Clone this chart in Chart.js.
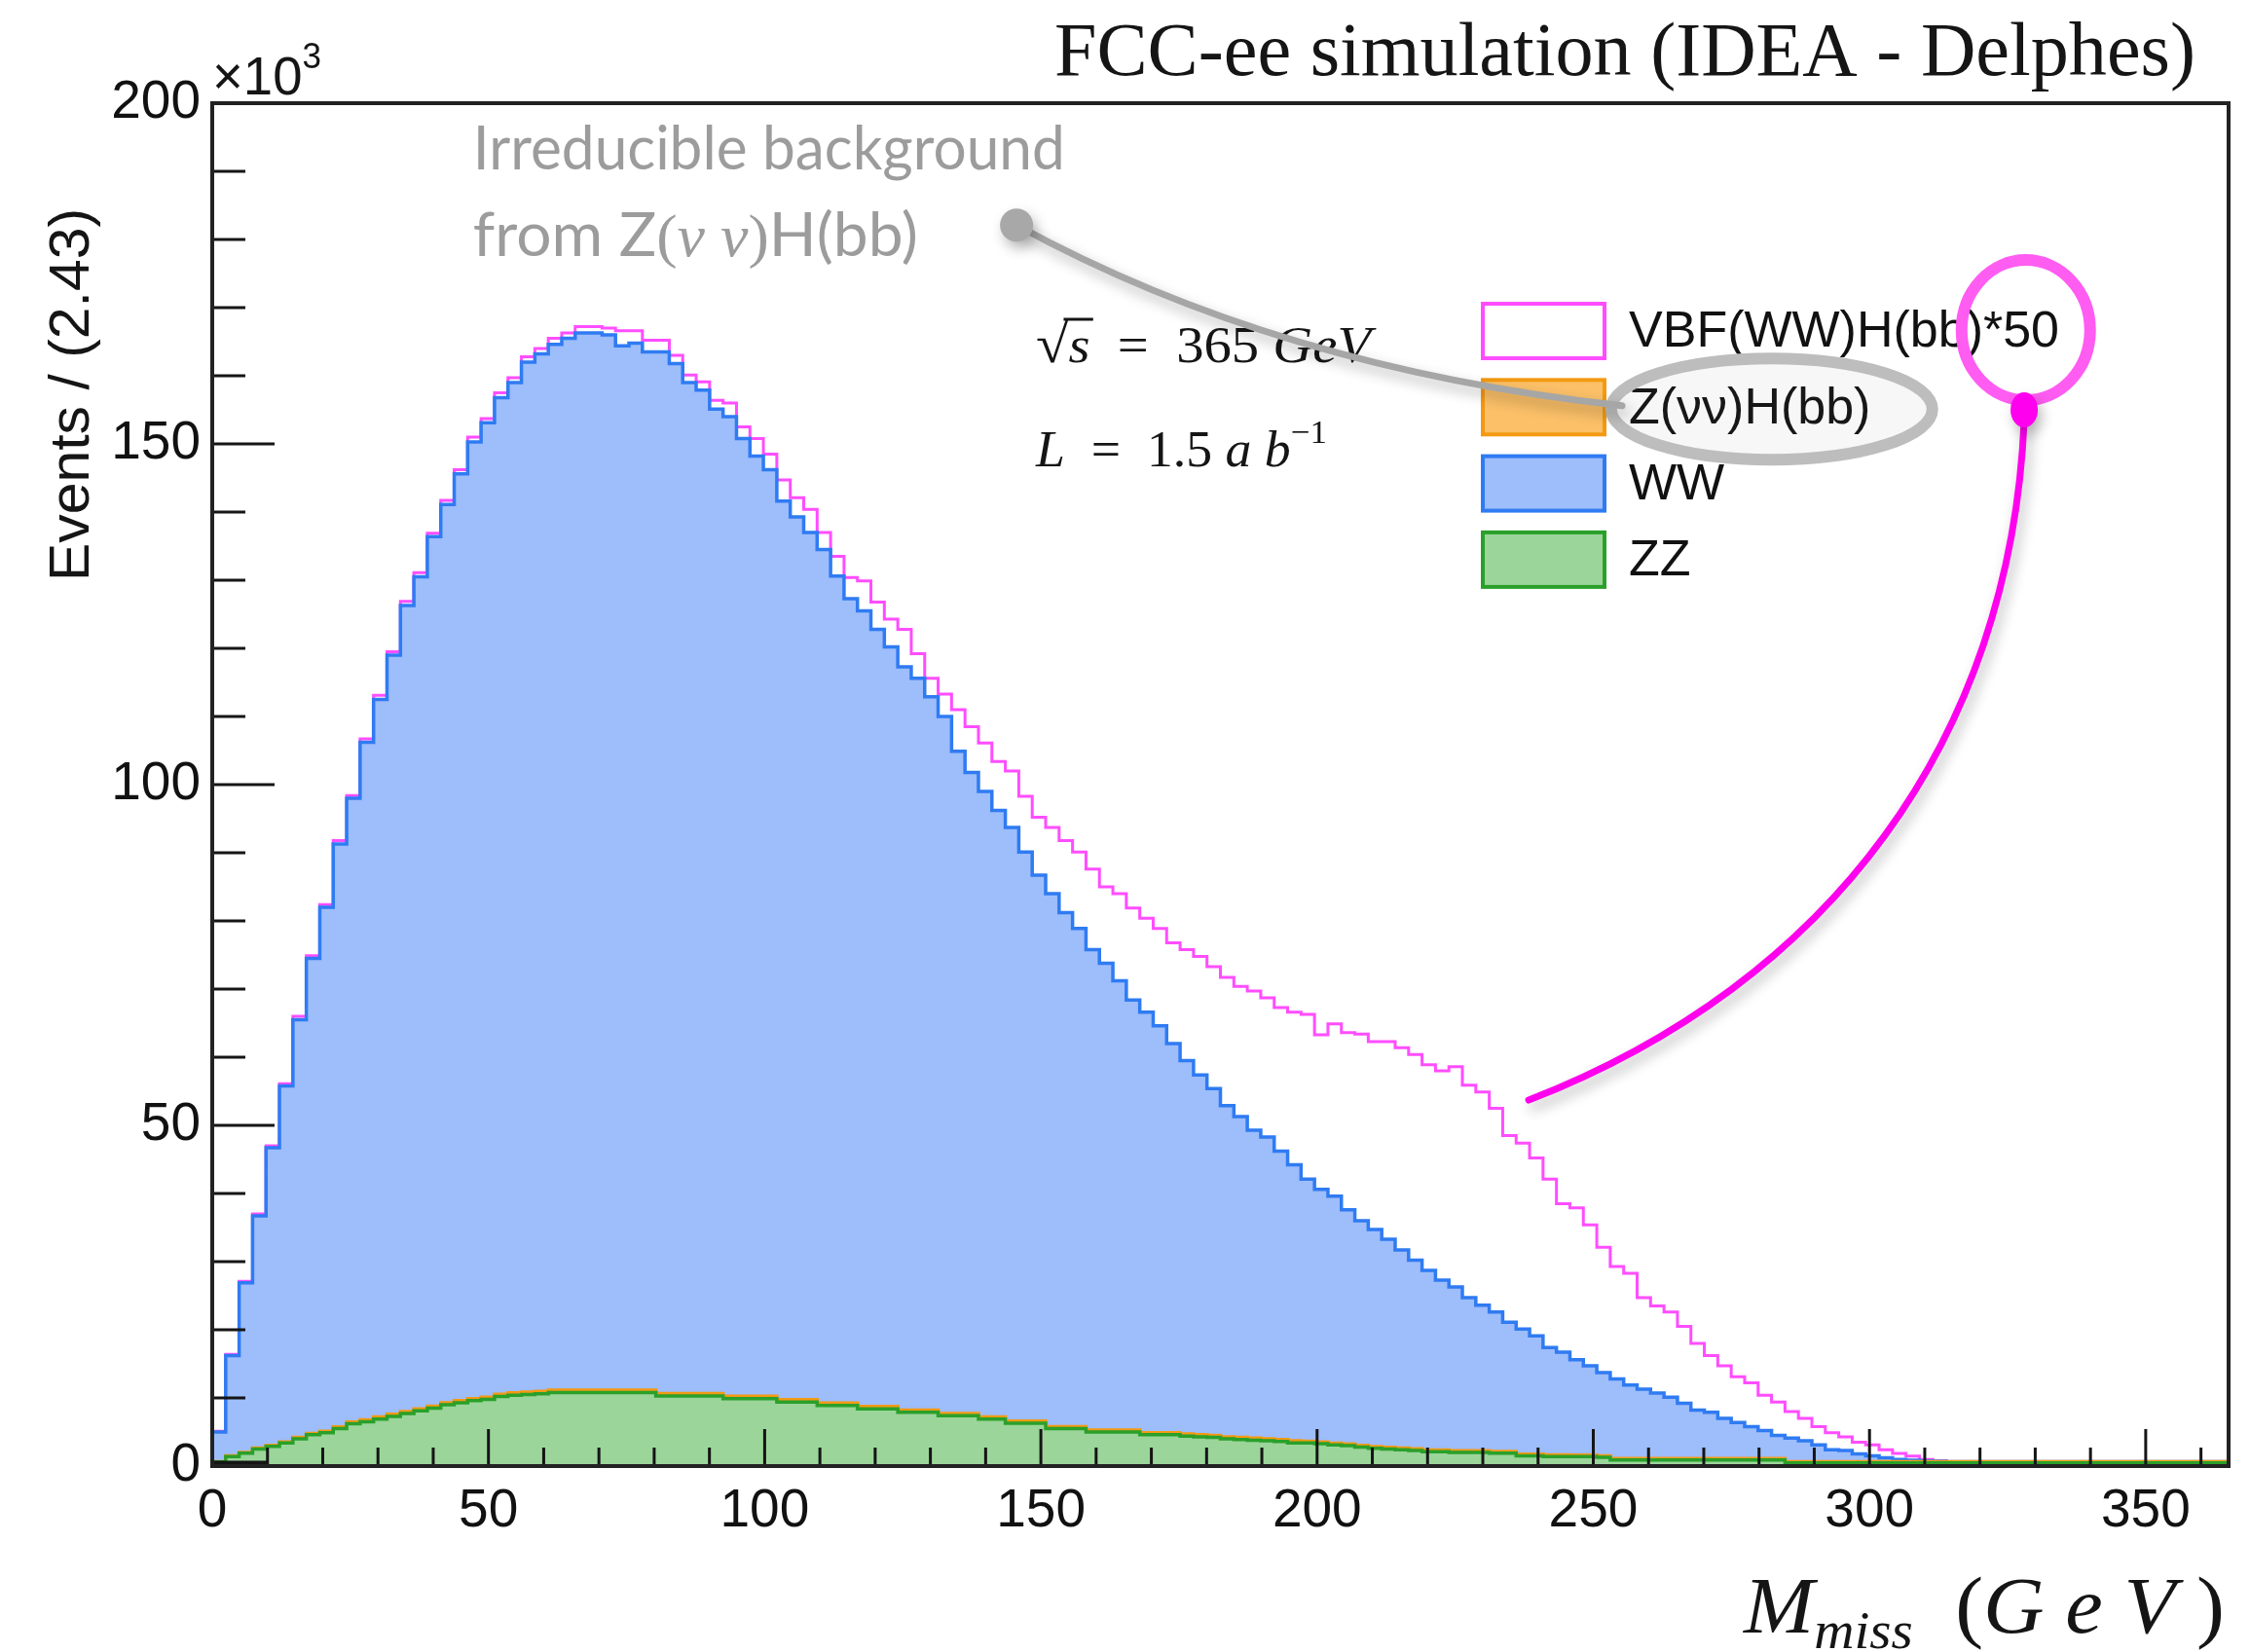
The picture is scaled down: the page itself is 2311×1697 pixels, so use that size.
<!DOCTYPE html>
<html lang="en">
<head>
<meta charset="UTF-8">
<title>M_miss - FCC-ee simulation (IDEA - Delphes)</title>
<script src="https://cdn.jsdelivr.net/npm/chart.js@4.4.1/dist/chart.umd.min.js"></script>
<style>
  html, body { margin: 0; padding: 0; background: #fff; }
  #wrap { position: relative; width: 2311px; height: 1697px; }
  canvas { display: block; }
</style>
</head>
<body>
<div id="wrap"><canvas id="mmiss" width="2311" height="1697"></canvas></div>
<script>
// histogram binning: 150 bins of 2.43 GeV between 0 and 365 GeV
const X_MIN = 0, X_MAX = 365, N_BINS = 150;
const xTickLabels = ['0', '50', '100', '150', '200', '250', '300', '350'];
const yTickLabels = ['0', '50', '100', '150', '200'];   // events, x10^3

// stacked components, events per bin in units of 10^3
const zz = [
  0.6, 1.4, 1.9, 2.5, 2.9, 3.4, 4.0, 4.6, 4.9, 5.5,
  6.2, 6.5, 6.9, 7.3, 7.7, 8.1, 8.5, 9.0, 9.3, 9.6,
  9.8, 10.2, 10.4, 10.5, 10.6, 10.8, 10.8, 10.8, 10.8, 10.8,
  10.8, 10.8, 10.8, 10.3, 10.3, 10.3, 10.3, 10.3, 9.9, 9.9,
  9.9, 9.9, 9.4, 9.4, 9.4, 8.9, 8.9, 8.9, 8.4, 8.4,
  8.4, 7.9, 7.9, 7.9, 7.4, 7.4, 7.4, 6.9, 6.9, 6.3,
  6.3, 6.3, 5.5, 5.5, 5.5, 5.0, 5.0, 5.0, 5.0, 4.6,
  4.6, 4.6, 4.4, 4.3, 4.2, 4.0, 3.9, 3.8, 3.7, 3.6,
  3.4, 3.4, 3.3, 3.1, 3.0, 2.8, 2.6, 2.5, 2.4, 2.3,
  2.1, 2.1, 2.0, 2.0, 2.0, 1.9, 1.9, 1.5, 1.5, 1.4,
  1.4, 1.4, 1.4, 1.3, 0.9, 0.9, 0.9, 0.9, 0.9, 0.9,
  0.9, 0.9, 0.9, 0.9, 0.9, 0.9, 0.9, 0.45, 0.45, 0.45,
  0.45, 0.45, 0.45, 0.45, 0.45, 0.45, 0.45, 0.45, 0.45, 0.45,
  0.45, 0.45, 0.45, 0.45, 0.45, 0.45, 0.45, 0.45, 0.45, 0.45,
  0.45, 0.45, 0.45, 0.45, 0.45, 0.45, 0.45, 0.45, 0.45, 0.45
];
const zvvHbb = [
  0.05, 0.1, 0.1, 0.15, 0.15, 0.15, 0.2, 0.2, 0.2, 0.25,
  0.25, 0.3, 0.3, 0.3, 0.3, 0.3, 0.3, 0.3, 0.3, 0.3,
  0.3, 0.35, 0.35, 0.35, 0.35, 0.35, 0.35, 0.35, 0.35, 0.35,
  0.35, 0.35, 0.35, 0.35, 0.35, 0.35, 0.35, 0.35, 0.35, 0.35,
  0.35, 0.35, 0.35, 0.35, 0.35, 0.35, 0.35, 0.35, 0.35, 0.35,
  0.35, 0.3, 0.3, 0.3, 0.3, 0.3, 0.3, 0.3, 0.3, 0.3,
  0.3, 0.3, 0.3, 0.3, 0.3, 0.3, 0.3, 0.3, 0.3, 0.3,
  0.3, 0.3, 0.3, 0.3, 0.3, 0.3, 0.3, 0.3, 0.3, 0.3,
  0.3, 0.25, 0.25, 0.25, 0.25, 0.25, 0.25, 0.25, 0.25, 0.25,
  0.25, 0.25, 0.25, 0.25, 0.25, 0.25, 0.25, 0.25, 0.25, 0.25,
  0.25, 0.2, 0.2, 0.2, 0.2, 0.2, 0.2, 0.2, 0.2, 0.2,
  0.2, 0.2, 0.2, 0.2, 0.2, 0.2, 0.2, 0.2, 0.2, 0.2,
  0.2, 0.2, 0.2, 0.2, 0.2, 0.2, 0.2, 0.2, 0.2, 0.2,
  0.2, 0.2, 0.2, 0.2, 0.2, 0.2, 0.2, 0.2, 0.2, 0.2,
  0.2, 0.2, 0.2, 0.2, 0.2, 0.2, 0.2, 0.2, 0.2, 0.2
];
const ww = [
  4.35, 14.7, 24.9, 34.05, 43.65, 52.25, 61.3, 69.7, 76.9, 85.55,
  91.55, 99.4, 105.3, 111.4, 118.3, 122.1, 127.6, 131.8, 136.0, 140.4,
  143.0, 146.25, 148.25, 151.15, 152.25, 153.45, 154.35, 155.15, 155.15, 154.85,
  153.25, 153.65, 152.35, 152.85, 151.15, 148.35, 147.25, 144.45, 143.75, 140.55,
  137.95, 135.95, 131.85, 129.55, 127.25, 125.25, 121.35, 118.05, 116.75, 114.05,
  111.45, 109.1, 107.4, 104.7, 102.3, 97.2, 94.1, 91.8, 89.0, 87.1,
  83.5, 80.1, 78.2, 75.4, 73.1, 70.5, 68.5, 65.9, 63.1, 61.7,
  59.7, 57.1, 54.8, 52.8, 50.9, 48.6, 47.1, 45.2, 44.3, 42.3,
  40.5, 38.45, 37.05, 36.25, 34.35, 32.95, 31.85, 30.55, 29.05, 27.65,
  26.35, 24.95, 24.05, 22.45, 21.35, 20.45, 18.95, 18.35, 17.35, 15.75,
  15.05, 14.0, 13.1, 12.2, 11.7, 10.8, 10.2, 9.6, 9.0, 8.1,
  7.1, 6.8, 5.9, 5.3, 4.7, 4.1, 3.4, 3.45, 3.05, 2.45,
  1.75, 1.65, 1.15, 0.85, 0.55, 0.3, 0.2, 0.1, 0.05, 0,
  0, 0, 0, 0, 0, 0, 0, 0, 0, 0,
  0, 0, 0, 0, 0, 0, 0, 0, 0, 0
];
const vbfHbbX50 = [
  0.1, 0.2, 0.2, 0.3, 0.3, 0.3, 0.5, 0.4, 0.4, 0.5,
  0.4, 0.5, 0.6, 0.5, 0.6, 0.6, 0.5, 0.6, 0.6, 0.7,
  0.6, 0.7, 0.7, 0.8, 0.8, 0.9, 0.8, 0.9, 0.9, 1.0,
  2.2, 1.8, 1.7, 1.7, 1.2, 1.1, 1.2, 1.3, 2.0, 1.7,
  2.6, 2.3, 3.1, 2.8, 3.4, 2.5, 2.9, 3.1, 4.4, 4.0,
  4.1, 5.5, 3.6, 2.7, 3.3, 6.1, 6.7, 7.1, 7.2, 8.3,
  8.2, 8.5, 9.7, 10.6, 11.2, 11.8, 11.2, 12.8, 13.5, 13.8,
  14.3, 14.8, 16.3, 17.4, 17.9, 18.8, 19.1, 20.4, 20.4, 21.1,
  22.4, 24.2, 22.7, 25.3, 26.0, 27.4, 27.6, 29.0, 29.7, 30.2,
  30.2, 30.7, 32.3, 31.2, 31.3, 29.9, 27.4, 27.3, 26.1, 24.7,
  21.8, 22.3, 20.7, 18.4, 16.5, 16.4, 13.4, 12.8, 12.5, 11.3,
  9.8, 8.3, 7.7, 6.7, 6.4, 5.2, 4.9, 3.9, 3.3, 2.7,
  2.5, 2.0, 1.7, 1.6, 1.2, 0.9, 0.6, 0.2, 0.1, 0,
  0, 0, 0, 0, 0, 0, 0, 0, 0, 0,
  0, 0, 0, 0, 0, 0, 0, 0, 0, 0
];

const SERIF = '"Liberation Serif", "DejaVu Serif", serif';
const SANS = '"Liberation Sans", Arial, sans-serif';
const HAND = 'Lato, "Open Sans", sans-serif';

// bin low edges + final upper edge, so a stepped line draws each bin as a flat step
const binEdges = Array.from({ length: N_BINS + 1 }, (_, i) => X_MIN + i * (X_MAX - X_MIN) / N_BINS);
function histPoints(values) {
  const pts = values.map((v, i) => ({ x: binEdges[i], y: v }));
  pts.push({ x: binEdges[N_BINS], y: values[N_BINS - 1] });
  return pts;
}

// draw a run of differently styled text pieces, squeezed to a target width
function drawRun(ctx, parts, x, y, targetWidth) {
  let w = 0;
  parts.forEach(p => { ctx.font = p.font; p.w = ctx.measureText(p.text).width; p.x = w; w += p.w; });
  const sx = targetWidth ? targetWidth / w : 1;
  ctx.save();
  ctx.translate(x, y);
  ctx.scale(sx, 1);
  ctx.textAlign = 'left';
  ctx.textBaseline = 'alphabetic';
  parts.forEach(p => { ctx.font = p.font; ctx.fillText(p.text, p.x, p.dy || 0); });
  ctx.restore();
  return sx;
}

function shadowOn(ctx) {
  ctx.shadowColor = 'rgba(0,0,0,0.28)';
  ctx.shadowBlur = 14;
  ctx.shadowOffsetX = 4;
  ctx.shadowOffsetY = 7;
}

const rootStyle = {
  id: 'rootStyle',
  beforeDraw(chart) {
    const { ctx, width, height } = chart;
    ctx.save();
    ctx.fillStyle = '#fff';
    ctx.fillRect(0, 0, width, height);
    ctx.restore();
  },
  afterDatasetsDraw(chart) {
    const { ctx, chartArea: a, scales: { x, y } } = chart;
    ctx.save();
    ctx.strokeStyle = '#151515';
    ctx.lineWidth = 3;
    ctx.beginPath();
    for (let v = 0; v <= 200; v += 10) {
      const py = y.getPixelForValue(v);
      ctx.moveTo(a.left, py);
      ctx.lineTo(a.left + (v % 50 === 0 ? 64 : 34), py);
    }
    for (let v = 0; v <= 360; v += 10) {
      const px = x.getPixelForValue(v);
      ctx.moveTo(px, a.bottom);
      ctx.lineTo(px, a.bottom - (v % 50 === 0 ? 38 : 19));
    }
    ctx.stroke();
    // heavy stub on the first 10 GeV of the baseline, as in the ROOT output
    ctx.lineWidth = 7;
    ctx.beginPath();
    ctx.moveTo(a.left, a.bottom - 2);
    ctx.lineTo(x.getPixelForValue(10), a.bottom - 2);
    ctx.stroke();
    ctx.lineWidth = 4;
    ctx.strokeStyle = '#222';
    ctx.strokeRect(a.left, a.top, a.right - a.left, a.bottom - a.top);
    ctx.restore();
  },
  afterDraw(chart) {
    const { ctx, chartArea: a, scales: { x, y } } = chart;
    const X = v => x.getPixelForValue(v), Y = v => y.getPixelForValue(v);
    ctx.save();

    // header and axis titles
    ctx.fillStyle = '#151515';
    drawRun(ctx, [{ text: 'FCC-ee simulation (IDEA - Delphes)', font: `78px ${SERIF}` }], 1083, 77, 1172);
    drawRun(ctx, [{ text: '\u00d710', font: `56px ${SANS}` }, { text: '3', font: `36px ${SANS}`, dy: -27 }], a.left, 97, 112);
    ctx.save();
    ctx.translate(91, 597);
    ctx.rotate(-Math.PI / 2);
    drawRun(ctx, [{ text: 'Events / (2.43)', font: `57px ${SANS}` }], 0, 0, 383);
    ctx.restore();
    drawRun(ctx, [
      { text: 'M', font: `italic 82px ${SERIF}` },
      { text: 'miss', font: `italic 54px ${SERIF}`, dy: 16 },
      { text: '  (', font: `82px ${SERIF}` },
      { text: 'G', font: `italic 82px ${SERIF}` },
      { text: ' e', font: `italic 82px ${SERIF}` },
      { text: ' V', font: `italic 82px ${SERIF}` },
      { text: ' )', font: `82px ${SERIF}` }
    ], 1791, 1677, 494);

    // energy / luminosity labels
    const sqrtParts = [
      { text: '\u221a', font: `56px ${SERIF}` },
      { text: 's', font: `italic 52px ${SERIF}` },
      { text: '  =  365 ', font: `52px ${SERIF}` },
      { text: 'GeV', font: `italic 52px ${SERIF}` }
    ];
    const sx0 = X(149.1), by0 = Y(162);
    const ssx = drawRun(ctx, sqrtParts, sx0, by0, 344);
    ctx.strokeStyle = '#151515';
    ctx.lineWidth = 3;
    ctx.beginPath();
    ctx.moveTo(sx0 + (sqrtParts[0].x + sqrtParts[0].w * 0.85) * ssx, by0 - 44);
    ctx.lineTo(sx0 + (sqrtParts[1].x + sqrtParts[1].w + 3) * ssx, by0 - 44);
    ctx.stroke();
    drawRun(ctx, [
      { text: 'L', font: `italic 52px ${SERIF}` },
      { text: '  =  1.5 ', font: `52px ${SERIF}` },
      { text: 'a b', font: `italic 52px ${SERIF}` },
      { text: '\u22121', font: `34px ${SERIF}`, dy: -24 }
    ], X(149.1), Y(146.7), 299);

    // legend
    const legend = [
      { label: 'VBF(WW)H(bb)*50', fill: '#ffffff', line: '#ff4dff' },
      { label: 'Z(\u03bd\u03bd)H(bb)', fill: '#fbc068', line: '#f39a12' },
      { label: 'WW', fill: '#9dbdfb', line: '#2f7bf2' },
      { label: 'ZZ', fill: '#9bd59a', line: '#2aa02a' }
    ];
    const lx = X(230), ly0 = a.top + 234, pitch = 78.3;
    legend.forEach((e, i) => {
      const cy = ly0 + i * pitch;
      ctx.fillStyle = e.fill;
      ctx.strokeStyle = e.line;
      ctx.lineWidth = 4;
      ctx.fillRect(lx, cy - 28, 125, 56);
      ctx.strokeRect(lx, cy - 28, 125, 56);
      ctx.fillStyle = '#111';
      ctx.font = `52px ${SANS}`;
      ctx.textBaseline = 'middle';
      ctx.fillText(e.label, lx + 150, cy + 2);
    });

    // gray annotation: irreducible background
    ctx.fillStyle = '#9c9c9c';
    drawRun(ctx, [{ text: 'Irreducible background', font: `62px ${HAND}` }], X(47.2), Y(190.3), 608);
    drawRun(ctx, [
      { text: 'from Z', font: `62px ${HAND}` },
      { text: '(', font: `62px ${SERIF}` },
      { text: '\u03bd \u03bd', font: `italic 62px ${SERIF}` },
      { text: ')', font: `62px ${SERIF}` },
      { text: 'H(bb)', font: `62px ${HAND}` }
    ], X(47.2), Y(177.6), 457);

    ctx.save();
    ctx.fillStyle = 'rgba(120,120,120,0.06)';
    ctx.strokeStyle = '#bdbdbd';
    ctx.lineWidth = 12;
    ctx.beginPath();
    ctx.ellipse(X(282.3), Y(155.1), 165, 52, 0, 0, Math.PI * 2);
    ctx.fill();
    ctx.stroke();
    ctx.restore();

    ctx.save();
    shadowOn(ctx);
    ctx.strokeStyle = '#a6a6a6';
    ctx.lineWidth = 7;
    ctx.lineCap = 'round';
    ctx.beginPath();
    ctx.moveTo(X(145.6), Y(182.1));
    ctx.quadraticCurveTo(X(193), Y(161.1), X(255.2), Y(155.6));
    ctx.stroke();
    ctx.fillStyle = '#a8a8a8';
    ctx.beginPath();
    ctx.arc(X(145.6), Y(182.1), 17, 0, Math.PI * 2);
    ctx.fill();
    ctx.restore();

    // pink annotation: signal scale factor
    ctx.save();
    ctx.strokeStyle = '#ff5cf2';
    ctx.lineWidth = 12;
    ctx.beginPath();
    ctx.ellipse(X(328.3), Y(166.7), 66, 72, 0, 0, Math.PI * 2);
    ctx.stroke();
    shadowOn(ctx);
    ctx.strokeStyle = '#ff00ee';
    ctx.lineWidth = 7;
    ctx.lineCap = 'round';
    ctx.beginPath();
    ctx.moveTo(X(328), Y(153.4));
    ctx.bezierCurveTo(X(325.5), Y(106.6), X(292.9), Y(70.9), X(238.3), Y(53.7));
    ctx.stroke();
    ctx.fillStyle = '#ff00ee';
    ctx.beginPath();
    ctx.ellipse(X(328), Y(155), 14, 18, 0, 0, Math.PI * 2);
    ctx.fill();
    ctx.restore();

    ctx.restore();
  }
};

const stepLine = { stepped: 'before', pointRadius: 0, borderWidth: 3.5, tension: 0 };

new Chart(document.getElementById('mmiss'), {
  type: 'line',
  data: {
    datasets: [
      { ...stepLine, label: 'ZZ', data: histPoints(zz), borderColor: '#2aa02a', backgroundColor: '#9bd59a', fill: 'origin' },
      { ...stepLine, label: 'Z(\u03bd\u03bd)H(bb)', data: histPoints(zvvHbb), borderColor: '#f39a12', backgroundColor: '#fbc068', fill: '-1' },
      { ...stepLine, label: 'WW', data: histPoints(ww), borderColor: '#2f7bf2', backgroundColor: '#9dbdfb', fill: '-1' },
      { ...stepLine, label: 'VBF(WW)H(bb)*50', data: histPoints(vbfHbbX50), borderColor: '#ff4dff', backgroundColor: 'transparent', fill: false, borderWidth: 3 }
    ]
  },
  options: {
    responsive: false,
    animation: false,
    devicePixelRatio: 1,
    layout: { padding: { top: 106, right: 22, left: 0, bottom: 0 } },
    plugins: { legend: { display: false }, tooltip: { enabled: false } },
    scales: {
      x: {
        type: 'linear', min: X_MIN, max: X_MAX,
        afterBuildTicks: s => { s.ticks = xTickLabels.map(t => ({ value: Number(t) })); },
        afterFit: s => { s.height = 191; },
        ticks: { color: '#111', font: { family: SANS, size: 55 }, padding: 14, maxRotation: 0, autoSkip: false },
        grid: { display: false, drawTicks: false },
        border: { display: false }
      },
      y: {
        stacked: true, min: 0, max: 200,
        afterBuildTicks: s => { s.ticks = yTickLabels.map(t => ({ value: Number(t) })); },
        afterFit: s => { s.width = 218; },
        ticks: { color: '#111', font: { family: SANS, size: 55 }, padding: 12 },
        grid: { display: false, drawTicks: false },
        border: { display: false }
      }
    }
  },
  plugins: [rootStyle]
});
</script>
</body>
</html>
